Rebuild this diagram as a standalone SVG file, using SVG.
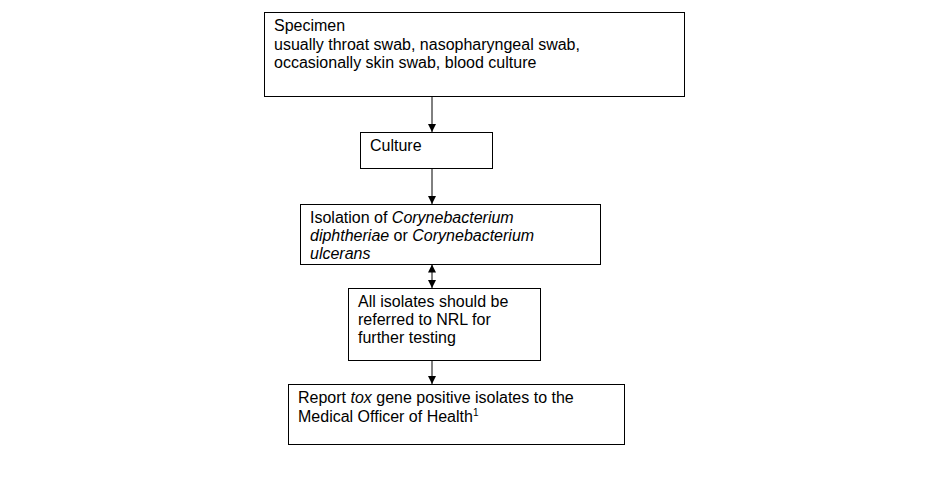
<svg xmlns="http://www.w3.org/2000/svg" width="925" height="481" viewBox="0 0 925 481">
<style>
.box{fill:#fff;stroke:#000;stroke-width:1}
.t{font-family:"Liberation Sans",Arial,sans-serif;font-size:16px;fill:#000}
.c{stroke:#000;stroke-width:1;fill:none}
</style>
<defs>
<marker id="ah" markerWidth="8" markerHeight="8" refX="8" refY="4" orient="auto-start-reverse" markerUnits="userSpaceOnUse">
<path d="M0,0 L8,4 L0,8 Z" fill="#000"/>
</marker>
</defs>
<rect width="925" height="481" fill="#fff"/>
<g id="connectors">
<line class="c" x1="432" y1="96.5" x2="432" y2="132" marker-end="url(#ah)"/>
<line class="c" x1="432" y1="168.5" x2="432" y2="204" marker-end="url(#ah)"/>
<line class="c" x1="432" y1="264.5" x2="432" y2="288" marker-start="url(#ah)" marker-end="url(#ah)"/>
<line class="c" x1="432" y1="360.5" x2="432" y2="384" marker-end="url(#ah)"/>
</g>
<g id="specimen">
<rect class="box" x="264.5" y="12.5" width="420" height="84"/>
<text class="t" x="274" y="31">Specimen</text>
<text class="t" x="274" y="50">usually throat swab, nasopharyngeal swab,</text>
<text class="t" x="274" y="68">occasionally skin swab, blood culture</text>
</g>
<g id="culture">
<rect class="box" x="360.5" y="132.5" width="132" height="36"/>
<text class="t" x="370" y="151">Culture</text>
</g>
<g id="isolation">
<rect class="box" x="300.5" y="204.5" width="300" height="60"/>
<text class="t" x="310" y="223">Isolation of <tspan font-style="italic">Corynebacterium</tspan></text>
<text class="t" x="310" y="241"><tspan font-style="italic">diphtheriae</tspan> or <tspan font-style="italic">Corynebacterium</tspan></text>
<text class="t" x="310" y="259" font-style="italic">ulcerans</text>
</g>
<g id="referral">
<rect class="box" x="348.5" y="288.5" width="192" height="72"/>
<text class="t" x="358" y="307">All isolates should be</text>
<text class="t" x="358" y="325">referred to NRL for</text>
<text class="t" x="358" y="343">further testing</text>
</g>
<g id="report">
<rect class="box" x="288.5" y="384.5" width="336" height="60"/>
<text class="t" x="298" y="403">Report <tspan font-style="italic">tox</tspan> gene positive isolates to the</text>
<text class="t" x="298" y="422">Medical Officer of Health<tspan font-size="10" dy="-6">1</tspan></text>
</g>
</svg>
